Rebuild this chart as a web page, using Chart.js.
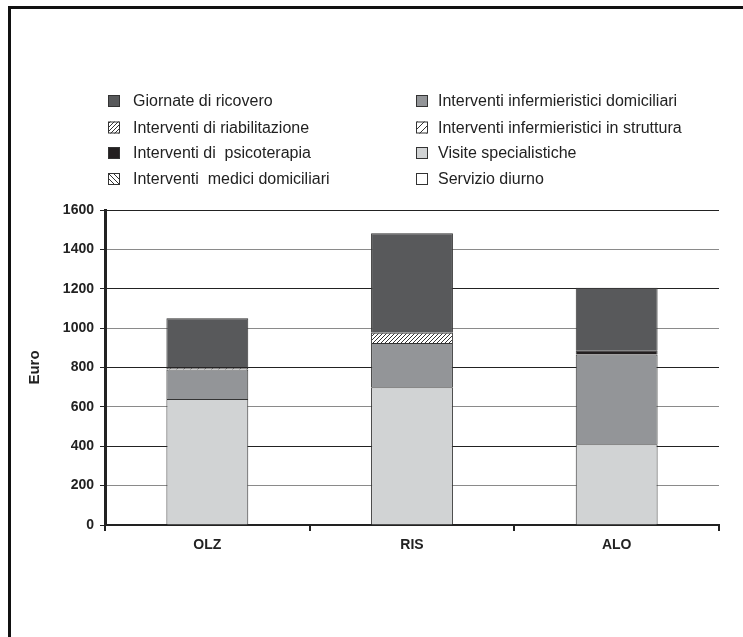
<!DOCTYPE html>
<html><head><meta charset="utf-8">
<script src="https://cdn.jsdelivr.net/npm/chart.js@4.4.0/dist/chart.umd.min.js"></script>
<style>html,body{margin:0;padding:0;background:#fff;}#wrap{position:relative;width:743px;height:637px;}</style>
</head><body><div id="wrap"><canvas id="c" width="743" height="637"></canvas></div>
<script>
// ---- data ----
const categories = ['OLZ', 'RIS', 'ALO'];
const visiteSpecialistiche = [640, 700, 410];
const infermieristiciDomiciliari = [150, 225, 456];
const servizioDiurno = [0, 0, 0];
const mediciDomiciliari = [0, 0, 0];
const infermieristiciStruttura = [8, 0, 0];
const riabilitazione = [0, 52, 0];
const psicoterapia = [5, 0, 21];
const giornateRicovero = [247, 505, 318];
const yTickValues = [0, 200, 400, 600, 800, 1000, 1200, 1400, 1600];
const yAxisTitle = 'Euro';

const FONT = '"Liberation Sans", Arial, Helvetica, sans-serif';
const cv = document.getElementById('c');
const ctx = cv.getContext('2d');

function hatch(dir, s, bg, fg) {
  const c = document.createElement('canvas');
  c.width = s; c.height = s;
  const x = c.getContext('2d');
  x.fillStyle = bg; x.fillRect(0, 0, s, s);
  x.strokeStyle = fg; x.lineWidth = 1;
  x.beginPath();
  if (dir === '/') {
    x.moveTo(0, s); x.lineTo(s, 0);
    x.moveTo(-1, 1); x.lineTo(1, -1);
    x.moveTo(s - 1, s + 1); x.lineTo(s + 1, s - 1);
  } else {
    x.moveTo(0, 0); x.lineTo(s, s);
    x.moveTo(-1, s - 1); x.lineTo(1, s + 1);
    x.moveTo(s - 1, -1); x.lineTo(s + 1, 1);
  }
  x.stroke();
  return ctx.createPattern(c, 'repeat');
}

const pRiab = hatch('/', 4, '#ffffff', '#333333');
const pStrutt = hatch('/', 7, '#ffffff', '#333333');
const pMedici = hatch('\\', 5, '#ffffff', '#333333');

const S = {
  giornate: { label: 'Giornate di ricovero', data: giornateRicovero, color: '#58595b' },
  infDom: { label: 'Interventi infermieristici domiciliari', data: infermieristiciDomiciliari, color: '#939598' },
  riab: { label: 'Interventi di riabilitazione', data: riabilitazione, color: pRiab },
  strutt: { label: 'Interventi infermieristici in struttura', data: infermieristiciStruttura, color: pStrutt },
  psico: { label: 'Interventi di  psicoterapia', data: psicoterapia, color: '#231f20' },
  visite: { label: 'Visite specialistiche', data: visiteSpecialistiche, color: '#d1d3d4' },
  medici: { label: 'Interventi  medici domiciliari', data: mediciDomiciliari, color: pMedici },
  diurno: { label: 'Servizio diurno', data: servizioDiurno, color: '#ffffff' }
};
// stacking order bottom -> top
const stackOrder = ['visite', 'infDom', 'diurno', 'medici', 'strutt', 'riab', 'psico', 'giornate'];
const legendRows = [['giornate', 'infDom'], ['riab', 'strutt'], ['psico', 'visite'], ['medici', 'diurno']];

const datasets = stackOrder.map(k => ({
  label: S[k].label,
  data: S[k].data.map(v => v === 0 ? null : v),
  backgroundColor: S[k].color,
  borderColor: '#333333',
  borderWidth: 1,
  barPercentage: 0.4,
  categoryPercentage: 1.0
}));

const legendPlugin = {
  id: 'customLegend',
  afterDraw(chart) {
    const c = chart.ctx;
    c.save();
    c.font = '16px ' + FONT;
    c.textBaseline = 'middle';
    c.textAlign = 'left';
    const cols = [{ box: 108, text: 133 }, { box: 416, text: 438 }];
    const rowsY = [101, 127.5, 153, 179];
    legendRows.forEach((row, ri) => {
      row.forEach((k, ci) => {
        const y = rowsY[ri];
        const b = 12;
        c.fillStyle = S[k].color;
        c.fillRect(cols[ci].box, y - b / 2, b, b);
        c.strokeStyle = '#333333';
        c.lineWidth = 1;
        c.strokeRect(cols[ci].box + 0.5, y - b / 2 + 0.5, b - 1, b - 1);
        c.fillStyle = '#222222';
        c.fillText(S[k].label, cols[ci].text, y + 1);
      });
    });
    c.restore();
  }
};

const framePlugin = {
  id: 'frame',
  beforeDraw(chart) {
    const c = chart.ctx;
    c.save();
    c.fillStyle = '#ffffff';
    c.fillRect(0, 0, chart.width, chart.height);
    c.fillStyle = '#111111';
    c.fillRect(8, 6, 3, chart.height - 6);
    c.fillRect(8, 6, chart.width - 8, 3);
    c.restore();
  }
};

new Chart(cv, {
  type: 'bar',
  data: { labels: categories, datasets },
  plugins: [framePlugin, legendPlugin],
  options: {
    responsive: false,
    animation: false,
    events: [],
    layout: { padding: { top: 210, right: 24, bottom: 72, left: 0 } },
    plugins: { legend: { display: false }, tooltip: { enabled: false } },
    scales: {
      x: {
        stacked: true,
        afterFit(s) { s.height = 40; },
        border: { display: true, color: '#222222', width: 2 },
        grid: { offset: true, drawOnChartArea: false, tickLength: 6, color: '#222222', lineWidth: 2 },
        ticks: { color: '#222222', font: { family: FONT, size: 14, weight: 'bold' }, padding: 6 }
      },
      y: {
        stacked: true,
        min: 0, max: 1600,
        afterFit(s) { s.width = 105; },
        afterBuildTicks(s) { s.ticks = yTickValues.map(v => ({ value: v })); },
        border: { display: true, color: '#222222', width: 3 },
        grid: {
          color: c => (c.tick && (c.tick.value / 200) % 2 === 1) ? '#8a8a8a' : '#222222',
          tickColor: '#222222',
          tickLength: 5,
          lineWidth: 1
        },
        ticks: { color: '#222222', font: { family: FONT, size: 14, weight: 'bold' }, padding: 6, callback: v => String(v) },
        title: { display: true, text: yAxisTitle, color: '#222222', font: { family: FONT, size: 15, weight: 'bold' }, padding: { top: 26, bottom: 0 } }
      }
    }
  }
});
</script>
</body></html>
